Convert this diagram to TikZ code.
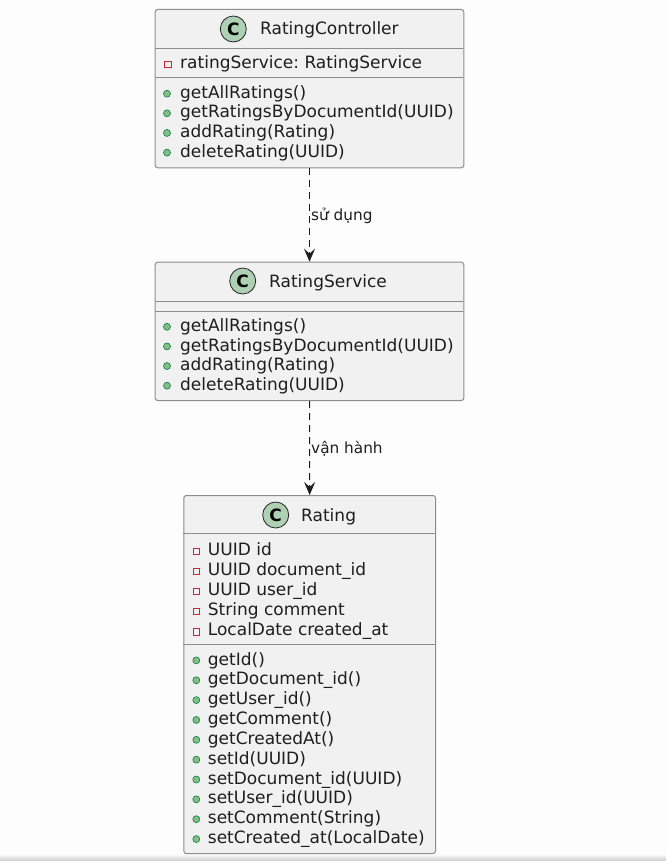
\documentclass[tikz,border=0pt]{standalone}
\usepackage{fontspec}
\setmainfont{DejaVu Sans}
\usetikzlibrary{arrows.meta}
\definecolor{bg}{HTML}{FDFDFD}
\definecolor{boxfill}{HTML}{F1F1F1}
\definecolor{boxline}{HTML}{8C8C8C}
\definecolor{cfill}{HTML}{ADD1B2}
\definecolor{pubfill}{HTML}{84BE84}
\definecolor{publine}{HTML}{038048}
\definecolor{privline}{HTML}{C82930}
\definecolor{txt}{HTML}{1E1E1E}
\frenchspacing
\begin{document}
\begin{tikzpicture}[x=1pt,y=-1pt,
 classbox/.style={draw=boxline, line width=1pt, fill=boxfill, rounded corners=2.5pt, inner sep=0pt, anchor=north west},
 sepline/.style={draw=boxline, line width=1pt},
 member/.style={anchor=base west, inner sep=0pt, font=\fontsize{17}{20}\selectfont, text=txt},
 title/.style={anchor=base west, inner sep=0pt, font=\fontsize{17}{20}\selectfont, text=txt},
 cicon/.style={circle, draw=black!85, line width=0.8pt, fill=cfill, minimum size=26pt, inner sep=0pt, font=\fontsize{17}{20}\selectfont\bfseries},
 pub/.style={circle, draw=publine, line width=0.6pt, fill=pubfill, minimum size=7pt, inner sep=0pt},
 priv/.style={rectangle, draw=privline, line width=0.9pt, minimum size=6.5pt, inner sep=0pt},
 dep/.style={draw=txt, line width=1pt, dash pattern=on 7pt off 5pt, -{Stealth[length=13pt,width=11pt,inset=5pt]}},
 lbl/.style={anchor=base west, inner sep=0pt, font=\fontsize{15.3}{18}\selectfont, text=txt}]
\fill[bg] (0,0) rectangle (666,861);
\useasboundingbox (0,0) rectangle (666,861);
\shade[top color=bg, bottom color=gray!40] (0,854) rectangle (666,861);

% ---------- RatingController ----------
\node[classbox, minimum width=308.6pt, minimum height=158.3pt] (b1) at (154.7,9) {};
\draw[sepline] (154.7,48.3) -- (463.3,48.3);
\draw[sepline] (154.7,77.7) -- (463.3,77.7);
\node[cicon] (b1c) at (233.3,29) {C};
\node[title] (b1t) at (260,35) {RatingController};
\node[priv] (b1fi) at (168,64.7) {};
\node[member] (b1f) at (180,68.3) {ratingService: RatingService};
\foreach \t [count=\i] in {getAllRatings(), getRatingsByDocumentId(UUID), addRating(Rating), deleteRating(UUID)} {
  \node[pub, name=b1mi\i] at (167,{98.3+19.63*(\i-1)-4.6}) {};
  \node[member, name=b1m\i] at (180,{98.3+19.63*(\i-1)}) {\t};
}

% ---------- RatingService ----------
\node[classbox, minimum width=308.6pt, minimum height=138.3pt] (b2) at (154.7,261.7) {};
\draw[sepline] (154.7,301) -- (463.3,301);
\draw[sepline] (154.7,311) -- (463.3,311);
\node[cicon] (b2c) at (242.7,281) {C};
\node[title] (b2t) at (269,287.3) {RatingService};
\foreach \t [count=\i] in {getAllRatings(), getRatingsByDocumentId(UUID), addRating(Rating), deleteRating(UUID)} {
  \node[pub, name=b2mi\i] at (167,{331.4+19.63*(\i-1)-4.6}) {};
  \node[member, name=b2m\i] at (180,{331.4+19.63*(\i-1)}) {\t};
}

% ---------- Rating ----------
\node[classbox, minimum width=251.7pt, minimum height=358pt] (b3) at (183.3,495) {};
\draw[sepline] (183.3,533.3) -- (435,533.3);
\draw[sepline] (183.3,644.3) -- (435,644.3);
\node[cicon] (b3c) at (275.7,515) {C};
\node[title] (b3t) at (301,521.7) {Rating};
\foreach \t [count=\i] in {UUID id, UUID document\_id, UUID user\_id, String comment, LocalDate created\_at} {
  \node[priv, name=b3fi\i] at (196.3,{555+20.1*(\i-1)-3.7}) {};
  \node[member, name=b3f\i] at (207.7,{555+20.1*(\i-1)}) {\t};
}
\foreach \t [count=\i] in {getId(), getDocument\_id(), getUser\_id(), getComment(), getCreatedAt(), setId(UUID), setDocument\_id(UUID), setUser\_id(UUID), setComment(String), setCreated\_at(LocalDate)} {
  \node[pub, name=b3mi\i] at (196.3,{665+19.85*(\i-1)-4.6}) {};
  \node[member, name=b3m\i] at (207.7,{665+19.85*(\i-1)}) {\t};
}

% ---------- connectors ----------
\draw[dep] (b1.south) -- (b2.north);
\node[lbl] (l1) at (311,220) {sử dụng};
\draw[dep] (b2.south) -- (b3.north);
\node[lbl] (l2) at (311,453.3) {vận hành};
\end{tikzpicture}
\end{document}
